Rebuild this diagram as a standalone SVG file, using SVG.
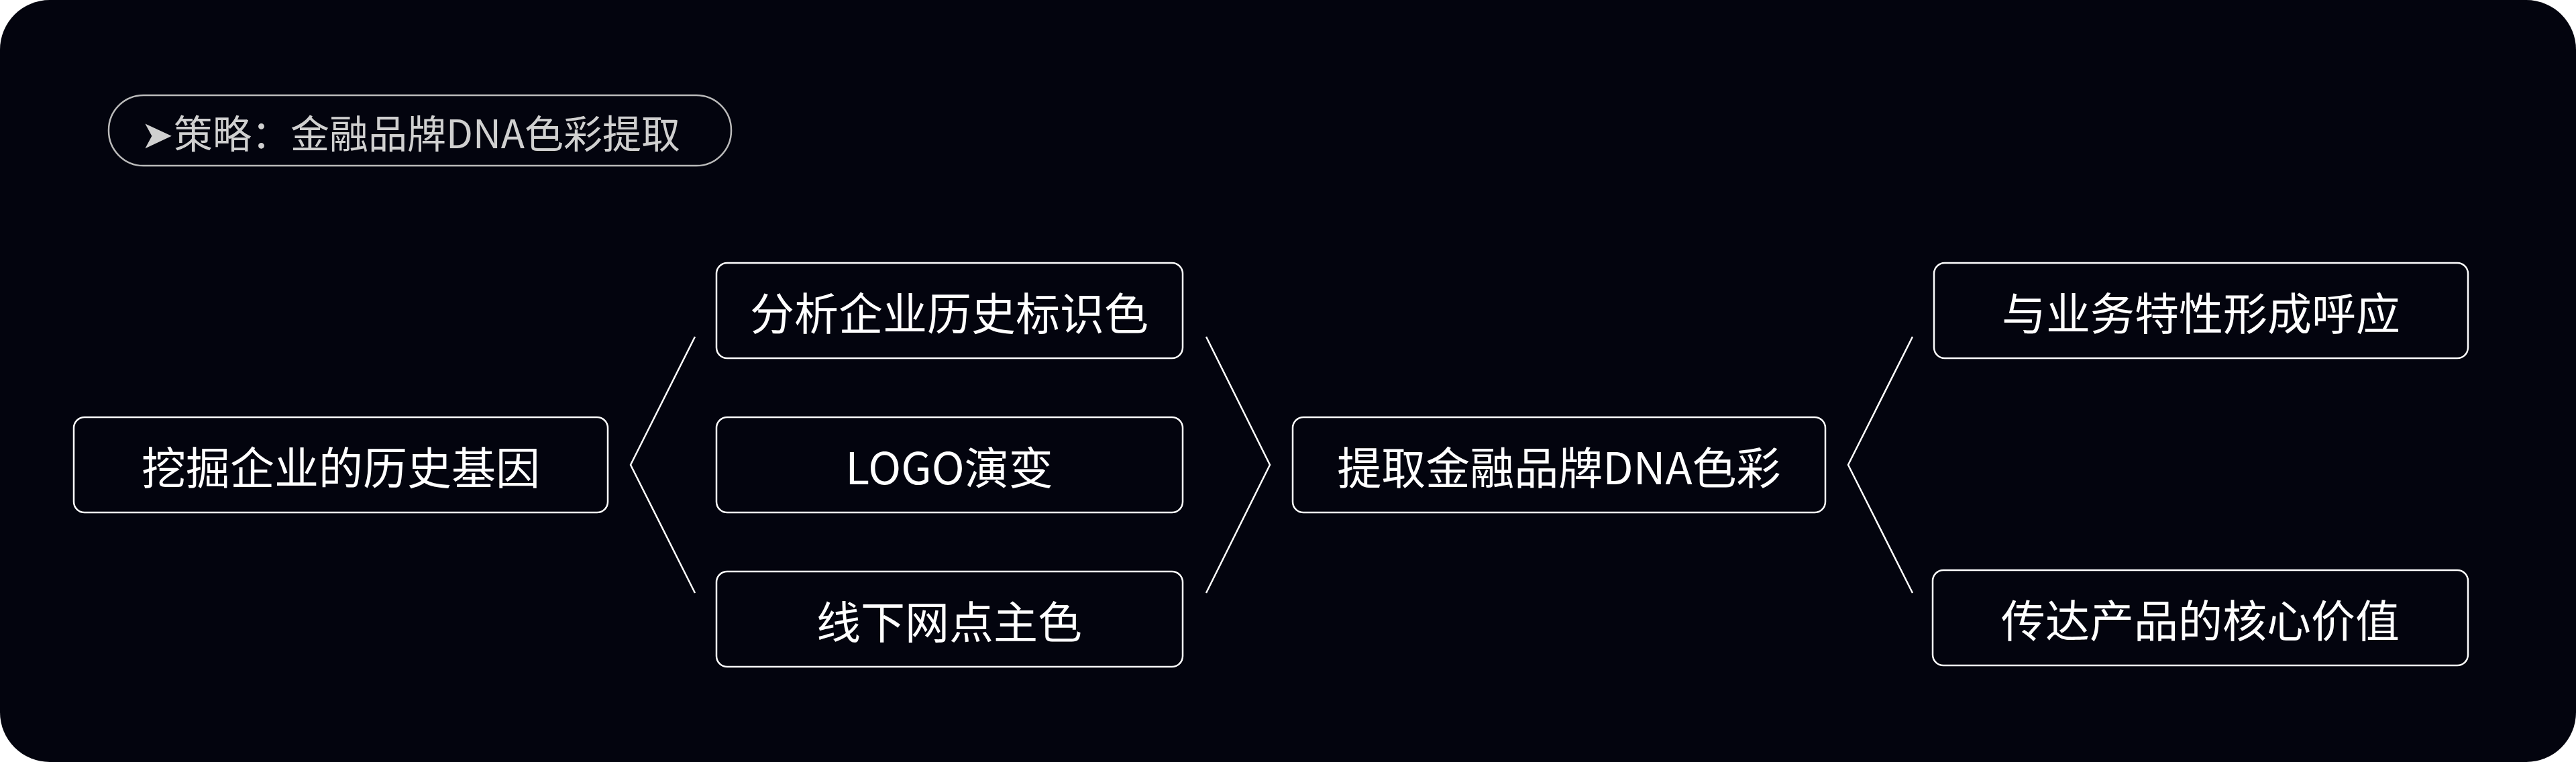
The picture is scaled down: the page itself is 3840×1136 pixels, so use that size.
<svg xmlns="http://www.w3.org/2000/svg" width="3840" height="1136" viewBox="0 0 3840 1136">
<style>
.n{fill:#03040e;stroke:#fff;stroke-width:2.5}
.t{fill:#fff;font-family:"Noto Sans CJK SC","Noto Sans",sans-serif;font-size:66px;text-anchor:middle;dominant-baseline:central}
.c{fill:none;stroke:#fff;stroke-width:2.5}
</style>
<rect width="3840" height="1136" fill="#fff"/>
<rect width="3840" height="1136" rx="74" fill="#03040e"/>
<g id="title">
<rect x="162" y="142" width="928" height="105" rx="52" fill="none" stroke="#bbb" stroke-width="2.5"/>
<text x="210" y="196" fill="#d0d0d0" font-family="Noto Sans CJK SC,sans-serif" font-size="58" dominant-baseline="central">➤策略：金融品牌DNA色彩提取</text>
</g>
<g id="n1"><rect class="n" x="110" y="622" width="796" height="142" rx="16"/><text class="t" x="508" y="693">挖掘企业的历史基因</text></g>
<g id="n2"><rect class="n" x="1068" y="392" width="695" height="142" rx="16"/><text class="t" x="1415" y="463">分析企业历史标识色</text></g>
<g id="n3"><rect class="n" x="1068" y="622" width="695" height="142" rx="16"/><text class="t" x="1415" y="693">LOGO演变</text></g>
<g id="n4"><rect class="n" x="1068" y="852" width="695" height="142" rx="16"/><text class="t" x="1415" y="923">线下网点主色</text></g>
<g id="n5"><rect class="n" x="1927" y="622" width="794" height="142" rx="16"/><text class="t" x="2324" y="693">提取金融品牌DNA色彩</text></g>
<g id="n6"><rect class="n" x="2883" y="392" width="796" height="142" rx="16"/><text class="t" x="3281" y="463">与业务特性形成呼应</text></g>
<g id="n7"><rect class="n" x="2881" y="850" width="798" height="142" rx="16"/><text class="t" x="3280" y="921">传达产品的核心价值</text></g>
<g id="connectors">
<polyline class="c" points="1036,502 940,693 1036,884"/>
<polyline class="c" points="1798,502 1893,693 1798,884"/>
<polyline class="c" points="2851,502 2755,693 2851,884"/>
</g>
</svg>
